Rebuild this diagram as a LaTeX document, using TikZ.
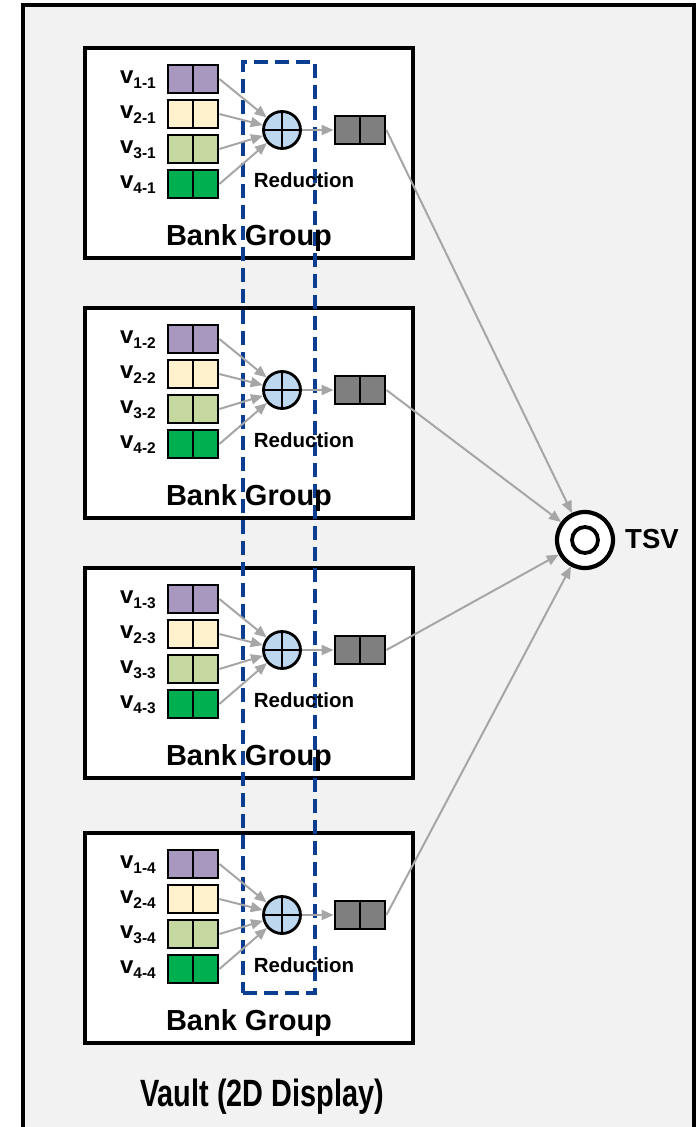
\documentclass[tikz,border=0pt]{standalone}
\usepackage{fontspec}
\setmainfont{Liberation Sans}
\usepackage{graphicx}
\usetikzlibrary{arrows.meta}

\definecolor{vaultbg}{HTML}{F2F2F2}
\definecolor{vpurple}{HTML}{A898C0}
\definecolor{vcream}{HTML}{FFF2CC}
\definecolor{vlgreen}{HTML}{C5D8A0}
\definecolor{vgreen}{HTML}{00B050}
\definecolor{vgray}{HTML}{7F7F7F}
\definecolor{plusblue}{HTML}{BDD7EE}
\definecolor{arrgray}{HTML}{A6A6A6}
\definecolor{dashblue}{HTML}{0B3D91}

\begin{document}
\begin{tikzpicture}[x=1pt,y=-1pt,
  vaultbox/.style={draw=black, line width=3.5pt, fill=vaultbg},
  bankbox/.style={draw=black, line width=3.5pt, fill=white, inner sep=0pt,
    minimum width=328pt, minimum height=210pt},
  vecbox/.style={draw=black, line width=2.8pt, inner sep=0pt,
    minimum width=50pt, minimum height=28pt},
  plusnode/.style={circle, draw=black, line width=2.8pt, fill=plusblue,
    inner sep=0pt, minimum size=37pt},
  tsvouter/.style={circle, draw=black, line width=4.2pt, fill=white,
    inner sep=0pt, minimum size=56pt, outer sep=2pt},
  tsvinner/.style={circle, draw=black, line width=3.8pt, fill=white,
    inner sep=0pt, minimum size=26pt},
  redbox/.style={draw=dashblue, line width=3.8pt, dash pattern=on 14pt off 7pt,
    inner sep=0pt},
  arr/.style={draw=arrgray, line width=2pt, -{Triangle[length=12pt,width=10pt]}},
  vlabel/.style={anchor=base east, inner sep=0pt, font=\bfseries\fontsize{24}{24}\selectfont},
  redlabel/.style={anchor=base, inner sep=0pt, font=\bfseries\fontsize{20.5}{21}\selectfont},
  banklabel/.style={anchor=base, inner sep=0pt, font=\bfseries\fontsize{29}{30}\selectfont},
  bigtitle/.style={anchor=base, inner sep=0pt, font=\bfseries\fontsize{38}{40}\selectfont}
]
\useasboundingbox (0,0) rectangle (699,1127);

% vault outline
\draw[vaultbox] (23,5) rectangle (694,1150);

% bank groups
\foreach \k/\t in {1/48, 2/308, 3/568, 4/833} {
  \node[bankbox] (bg-\k) at (249,\t+105) {};
}

% reduction column
\node[redbox, minimum width=72pt, minimum height=931pt] (redcol) at (279,527.5) {};

\foreach \k/\t in {1/48, 2/308, 3/568, 4/833} {
  % input vectors
  \foreach \i/\c in {1/vpurple, 2/vcream, 3/vlgreen, 4/vgreen} {
    \node[vecbox, fill=\c] (v-\i-\k) at (193,\t+31+35*\i-35) {};
    \draw[line width=2.8pt] (v-\i-\k.north) -- (v-\i-\k.south);
    \node[vlabel] (l-\i-\k) at (156,\t+35+35*\i-35)
      {v\raisebox{-5pt}{\fontsize{15.5}{16}\selectfont\i-\k}};
  }
  % reduction adder
  \node[plusnode] (plus-\k) at (282,\t+82) {};
  \draw[line width=2.4pt] (plus-\k.north) -- (plus-\k.south);
  \draw[line width=2.4pt] (plus-\k.west) -- (plus-\k.east);
  % output vector
  \node[vecbox, fill=vgray] (out-\k) at (360,\t+82) {};
  \draw[line width=2.8pt] (out-\k.north) -- (out-\k.south);
  % texts
  \node[redlabel] (red-\k) at (304,\t+139) {Reduction};
  \node[banklabel] (bank-\k) at (249,\t+197) {Bank Group};
  % connectors
  \foreach \i in {1,...,4} {
    \draw[arr] (v-\i-\k.east) -- (plus-\k);
  }
  \draw[arr] (plus-\k.east) -- (out-\k.west);
}

% TSV
\node[tsvouter] (tsv) at (585,540) {};
\node[tsvinner] (tsvin) at (585,540) {};
\node[anchor=base west, inner sep=0pt, font=\bfseries\fontsize{27.5}{28}\selectfont] (tsvl) at (625,548) {TSV};

\foreach \k in {1,...,4} {
  \draw[arr] (out-\k.east) -- (tsv);
}

% title
\node[bigtitle] (title) at (262,1106) {\scalebox{0.76}[1]{Vault (2D Display)}};
\end{tikzpicture}
\end{document}
